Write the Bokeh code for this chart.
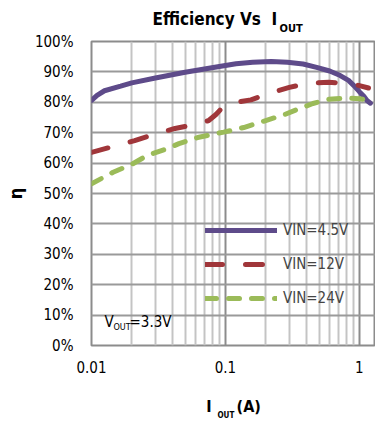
from bokeh.plotting import figure
from bokeh.models import (FixedTicker, CustomJSTickFormatter, PrintfTickFormatter,
                          Label, Legend, LegendItem, Title)
from bokeh.embed import file_html
from bokeh.resources import INLINE

# ---------------- data ----------------
x_45 = [0.01, 0.011, 0.0125, 0.0165, 0.02, 0.03, 0.05, 0.09, 0.12, 0.16, 0.22, 0.29,
        0.38, 0.48, 0.6, 0.72, 0.83, 0.91, 1.0, 1.08, 1.14, 1.21]
y_45 = [80.6, 82.3, 83.8, 85.3, 86.4, 88.0, 89.9, 91.8, 92.7, 93.2, 93.4, 93.2,
        92.6, 91.5, 90.3, 88.8, 87.2, 85.5, 83.5, 82.0, 80.6, 79.7]

x_12 = [0.01, 0.0155, 0.021, 0.03, 0.042, 0.06, 0.075, 0.085, 0.095, 0.12, 0.155,
        0.21, 0.3, 0.41, 0.59, 0.81, 1.0, 1.17]
y_12 = [63.5, 65.8, 67.4, 69.6, 71.4, 72.7, 74.0, 76.0, 78.3, 80.0, 80.8,
        82.9, 84.9, 86.2, 86.6, 86.2, 85.5, 84.7]

x_24 = [0.01, 0.0145, 0.02, 0.026, 0.037, 0.045, 0.062, 0.097, 0.137, 0.2, 0.27,
        0.35, 0.45, 0.59, 0.8, 1.0, 1.2]
y_24 = [53.2, 57.0, 59.6, 62.5, 64.8, 66.4, 68.4, 70.2, 71.7, 74.0, 75.8,
        77.8, 79.6, 81.0, 81.4, 81.2, 80.6]

x_major = [0.01, 0.1, 1]
x_minor = [0.02, 0.03, 0.04, 0.05, 0.06, 0.07, 0.08, 0.09,
           0.2, 0.3, 0.4, 0.5, 0.6, 0.7, 0.8, 0.9, 2, 3]
y_ticks = [0, 10, 20, 30, 40, 50, 60, 70, 80, 90, 100]

series_labels = ["VIN=4.5V", "VIN=12V", "VIN=24V"]
NB = "\u00a0"
title_main = "Efficiency Vs" + NB + NB + "I"
sub_txt = "OUT"
x_label_main = "I" + NB * 5 + "(A)"
y_label = "η"
FONT = "'DejaVu Sans Condensed', 'Liberation Sans Narrow', sans-serif"

# ---------------- figure ----------------
p = figure(width=375, height=423, x_axis_type="log", x_range=(0.01, 1.32), y_range=(0, 100),
           output_backend="svg", toolbar_location=None,
           min_border_left=91, min_border_right=0, min_border_top=41, min_border_bottom=78)
p.outline_line_color = "#8c8c8c"
p.outline_line_width = 2
p.background_fill_color = "white"
p.border_fill_color = "white"

p.xaxis.ticker = FixedTicker(ticks=x_major, minor_ticks=x_minor)
p.xaxis.formatter = CustomJSTickFormatter(code="return tick.toString();")
p.yaxis.ticker = FixedTicker(ticks=y_ticks)
p.yaxis.formatter = PrintfTickFormatter(format="%d%%")

for ax in (p.xaxis, p.yaxis):
    ax.axis_line_color = None
    ax.major_tick_line_color = None
    ax.minor_tick_line_color = None
    ax.major_tick_out = 0
    ax.minor_tick_out = 0
    ax.major_label_text_font = FONT
    ax.major_label_text_font_size = "15px"
    ax.major_label_text_color = "black"
    ax.axis_label_text_font = FONT
    ax.axis_label_text_font_style = "bold"
    ax.axis_label_text_color = "black"
p.yaxis.major_label_standoff = 18
p.xaxis.major_label_standoff = 15
p.yaxis.axis_label = y_label
p.yaxis.axis_label_text_font_size = "18px"
p.yaxis.axis_label_standoff = 6
p.xaxis.axis_label = x_label_main
p.xaxis.axis_label_text_font_size = "16px"
p.xaxis.axis_label_standoff = 21

p.xgrid.grid_line_color = "#8c8c8c"
p.xgrid.grid_line_width = 2
p.xgrid.minor_grid_line_color = "#c4c4c4"
p.xgrid.minor_grid_line_width = 2
p.ygrid.grid_line_color = "#9a9a9a"
p.ygrid.grid_line_width = 2

r1 = p.line(x_45, y_45, line_color="#5E4B8A", line_width=5, line_cap="round")
r2 = p.line(x_12, y_12, line_color="#A0363A", line_width=5, line_cap="round",
            line_dash="17 23")
r3 = p.line(x_24, y_24, line_color="#9BBB59", line_width=5, line_cap="round",
            line_dash="11 12")

legend = Legend(items=[LegendItem(label=series_labels[0], renderers=[r1]),
                       LegendItem(label=series_labels[1], renderers=[r2]),
                       LegendItem(label=series_labels[2], renderers=[r3])],
                location=(114, 37), padding=0, margin=0, spacing=14,
                glyph_width=72, glyph_height=20, label_height=20, label_standoff=6,
                border_line_color=None, background_fill_alpha=0,
                label_text_font=FONT, label_text_font_size="15px")
p.add_layout(legend, "center")


def set_standoff(t, v):
    try:
        t.standoff = v
    except Exception:
        t.standoff = 0


# title: subscript row closest to the frame, main row above it
t_sub = Title(text=sub_txt, align="left", offset=188, text_font=FONT,
              text_font_size="11px", text_font_style="bold", vertical_align="top",
              text_color="black")
set_standoff(t_sub, 9)
t_main = Title(text=title_main, align="left", offset=61, text_font=FONT,
               text_font_size="17px", text_font_style="bold", vertical_align="bottom",
               text_color="black")
set_standoff(t_main, -22)
p.add_layout(t_sub, "above")
p.add_layout(t_main, "above")

# x-axis label subscript
t_xsub = Title(text=sub_txt, align="left", offset=126, text_font=FONT,
               text_font_size="8px", text_font_style="bold", vertical_align="top",
               text_color="black")
set_standoff(t_xsub, -16)
p.add_layout(t_xsub, "below")


def lab(txt, x, y, size):
    p.add_layout(Label(text=txt, x=x, y=y, x_units="screen", y_units="screen",
                       text_font=FONT, text_font_size=size,
                       text_baseline="middle", text_align="left",
                       text_color="black"))


# annotation inside the frame
lab("V", 13, 23.5, "15px")
lab("OUT", 22, 19, "9px")
lab("=3.3V", 38, 23.5, "15px")

open("out.html", "w").write(file_html(p, INLINE))
